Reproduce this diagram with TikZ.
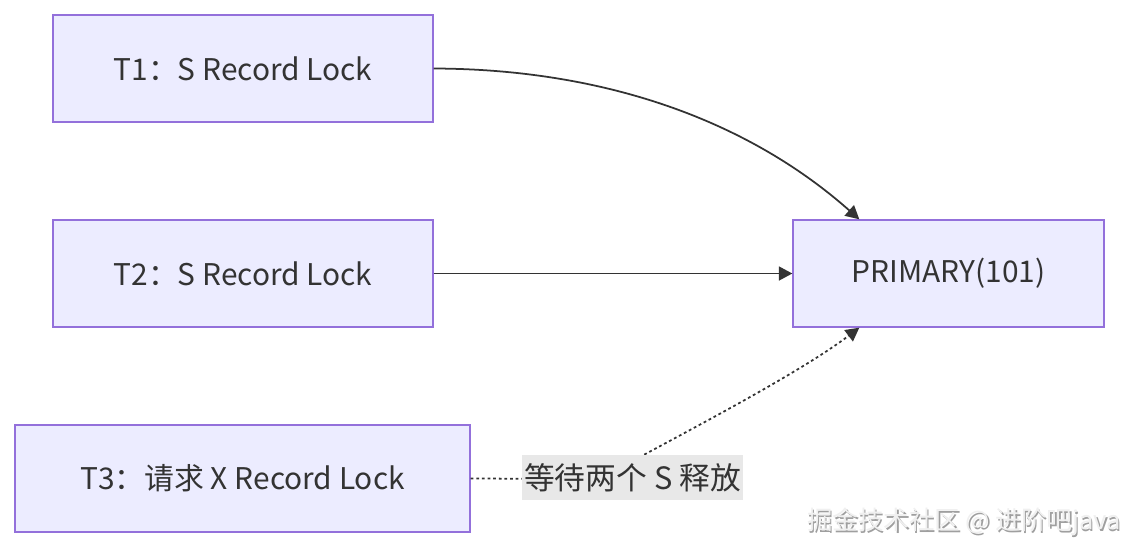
\documentclass[tikz,border=0pt]{standalone}
\usepackage{fontspec}
\setmainfont{Noto Sans CJK SC}
\usetikzlibrary{arrows.meta, positioning, calc}
\definecolor{mmfill}{HTML}{ECECFF}
\definecolor{mmborder}{HTML}{9370DB}
\definecolor{mmline}{HTML}{333333}
\definecolor{mmlabel}{HTML}{E8E8E8}

\begin{document}
\begin{tikzpicture}[x=0.02cm, y=-0.02cm,
  box/.style={rectangle, draw=mmborder, fill=mmfill, line width=0.8pt, minimum height=2.14cm, align=center, font=\fontsize{17}{20}\selectfont, text=mmline, inner sep=0pt},
  lbl/.style={rectangle, fill=mmlabel, inner xsep=1pt, inner ysep=0pt, minimum height=0.9cm, font=\fontsize{17.5}{20}\selectfont, text=mmline},
  wmark/.style={font=\fontsize{14.5}{17}\selectfont, inner sep=0pt},
  arr/.style={-{Triangle[length=0.27cm, width=0.28cm]}, line width=1pt, mmline},
  dep/.style={arr, dash pattern=on 1.6pt off 1.6pt}
]
\useasboundingbox (0,0) rectangle (1136,556);
\node[box, minimum width=7.6cm] (t1) at (243,68.5) {T1：S Record Lock};
\node[box, minimum width=7.6cm] (t2) at (243,273.5) {T2：S Record Lock};
\node[box, minimum width=9.1cm] (t3) at (242.5,478.5) {T3：请求 X Record Lock};
\node[box, minimum width=6.22cm] (prim) at (948.5,273.5) {PRIMARY(101)};
\coordinate (bend) at (600,479);
% Arrows
\draw[arr] (t1.east) .. controls (600,69) and (745,118) .. ([xshift=1.34cm]prim.north west);
\draw[arr] (t2.east) -- (prim.west);
\draw[dep] (t3.east) -- (bend) .. controls (650,450) and (790,380) .. ([xshift=1.34cm]prim.south west);
\node[lbl] (wait) at (632.5,477.5) {等待两个 S 释放};
% watermark
\node[wmark, text=gray!75] (wm2) at (965.5,523.5) {掘金技术社区 @ 进阶吧java};
\node[wmark, text=gray!12] (wm) at (964,522) {掘金技术社区 @ 进阶吧java};
\end{tikzpicture}
\end{document}
